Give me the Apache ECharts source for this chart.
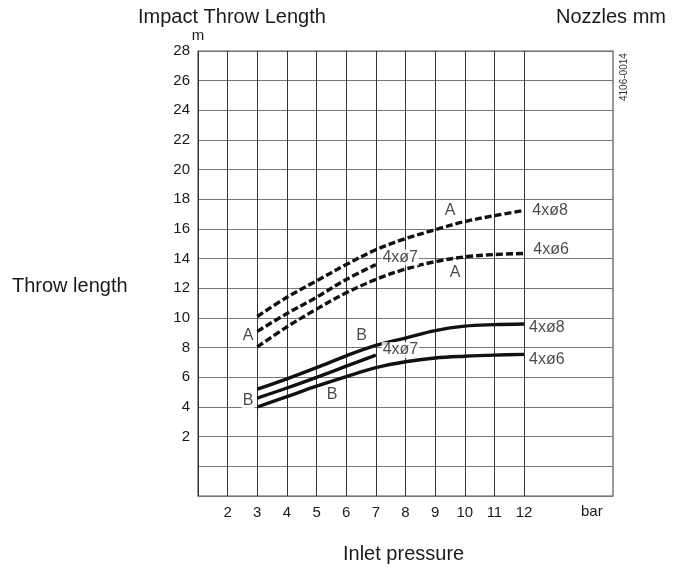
<!DOCTYPE html>
<html>
<head>
<meta charset="utf-8">
<script src="https://cdn.jsdelivr.net/npm/echarts@6/dist/echarts.min.js"></script>
<style>
html, body { margin: 0; padding: 0; background: #fff; }
#main { width: 682px; height: 571px; }
</style>
</head>
<body>
<div id="main"></div>
<script>
// pressure in bar
var pressure = [3, 4, 5, 6, 7, 8, 9, 10, 11, 12];
var pressureShort = [3, 4, 5, 6, 7];
// throw length in m, A = dashed, B = solid
var a8 = [10.1, 11.4, 12.5, 13.6, 14.6, 15.35, 15.95, 16.5, 16.9, 17.25];
var a7 = [9.1, 10.3, 11.4, 12.6, 13.6];
var a6 = [8.05, 9.4, 10.6, 11.7, 12.6, 13.3, 13.8, 14.12, 14.28, 14.35];
var b8 = [5.2, 5.9, 6.65, 7.45, 8.15, 8.65, 9.15, 9.45, 9.55, 9.6];
var b7 = [4.6, 5.28, 6.0, 6.75, 7.5];
var b6 = [4.0, 4.7, 5.4, 6.05, 6.65, 7.05, 7.3, 7.42, 7.5, 7.55];
// x tick labels shown, y tick labels shown
var xLabels = [2, 3, 4, 5, 6, 7, 8, 9, 10, 11, 12];
var yLabels = [2, 4, 6, 8, 10, 12, 14, 16, 18, 20, 22, 24, 26, 28];
// text on the plot: [text, x, y]
var notes = [
  ['A', 9.5, 17.21], ['4xø8', 12.88, 17.21], ['4xø6', 12.91, 14.58],
  ['4xø7', 7.82, 14.08], ['A', 9.67, 13.03], ['A', 2.69, 8.79],
  ['B', 6.52, 8.82], ['4xø7', 7.83, 7.84], ['4xø8', 12.77, 9.33],
  ['4xø6', 12.77, 7.17], ['B', 2.69, 4.44], ['B', 5.52, 4.81]
];

function pairs(xs, ys) {
  return xs.map(function (x, i) { return [x, ys[i]]; });
}

var font = 'Liberation Sans, Arial, sans-serif';
var chart = echarts.init(document.getElementById('main'));

function curve(name, xs, ys, dashed) {
  return {
    name: name, type: 'line', xAxisIndex: 0, yAxisIndex: 0,
    data: pairs(xs, ys), smooth: 0.35, symbol: 'none', silent: true,
    lineStyle: { color: '#111', width: 3.4, type: dashed ? [7, 3] : 'solid', cap: 'butt' },
    z: 5
  };
}

chart.setOption({
  animation: false,
  textStyle: { fontFamily: font },
  grid: [
    { left: 198, top: 51, width: 415, height: 445, show: true, borderColor: '#555', borderWidth: 1.2 },
    { left: 198, top: 51, width: 415 * 11 / 14, height: 445 }
  ],
  xAxis: [
    {
      type: 'value', gridIndex: 0, min: 1, max: 15, interval: 1,
      axisLine: { show: false }, axisTick: { show: false }, splitLine: { show: false },
      axisLabel: {
        color: '#1a1a1a', fontSize: 15, margin: 9, fontFamily: font,
        formatter: function (v) { return xLabels.indexOf(v) >= 0 ? String(v) : ''; }
      }
    },
    {
      type: 'value', gridIndex: 1, min: 1, max: 12, interval: 1,
      axisLine: { show: false }, axisTick: { show: false }, axisLabel: { show: false },
      splitLine: { show: true, lineStyle: { color: '#333', width: 1 } }
    }
  ],
  yAxis: [
    {
      type: 'value', gridIndex: 0, min: -2, max: 28, interval: 2,
      axisLine: { show: false }, axisTick: { show: false },
      splitLine: { show: true, lineStyle: { color: '#777', width: 1 } },
      axisLabel: {
        color: '#1a1a1a', fontSize: 15, margin: 8, fontFamily: font, padding: [3, 0, 0, 0],
        formatter: function (v) { return yLabels.indexOf(v) >= 0 ? String(v) : ''; }
      },
      name: 'm', nameLocation: 'end', nameGap: 4,
      nameTextStyle: { color: '#1a1a1a', fontSize: 15, align: 'center', fontFamily: font }
    },
    {
      type: 'value', gridIndex: 1, min: -2, max: 28, interval: 2, show: false,
      splitLine: { show: false }
    }
  ],
  graphic: [
    { type: 'text', left: 138, top: 7, style: { text: 'Impact Throw Length', fill: '#1a1a1a', font: '20px ' + font } },
    { type: 'text', right: 16, top: 7, style: { text: 'Nozzles mm', fill: '#1a1a1a', font: '20px ' + font } },
    { type: 'text', left: 12, top: 276, style: { text: 'Throw length', fill: '#1a1a1a', font: '20px ' + font } },
    { type: 'text', left: 343, top: 544, style: { text: 'Inlet pressure', fill: '#1a1a1a', font: '20px ' + font } },
    { type: 'text', left: 581, top: 504, style: { text: 'bar', fill: '#1a1a1a', font: '15px ' + font } },
    { type: 'text', x: 619, y: 101, rotation: Math.PI / 2, style: { text: '4106-0014', fill: '#333', font: '10px ' + font } }
  ],
  series: [
    curve('A 4xø8', pressure, a8, true),
    curve('A 4xø7', pressureShort, a7, true),
    curve('A 4xø6', pressure, a6, true),
    curve('B 4xø8', pressure, b8, false),
    curve('B 4xø7', pressureShort, b7, false),
    curve('B 4xø6', pressure, b6, false),
    {
      type: 'scatter', xAxisIndex: 0, yAxisIndex: 0, symbolSize: 0, silent: true, z: 6,
      data: notes.map(function (n) { return { value: [n[1], n[2]], name: n[0] }; }),
      label: {
        show: true, position: 'inside', color: '#1a1a1a', fontSize: 16, fontFamily: font,
        backgroundColor: '#fff', padding: [0, 1],
        formatter: function (p) { return p.name; }
      }
    }
  ]
});
</script>
</body>
</html>
